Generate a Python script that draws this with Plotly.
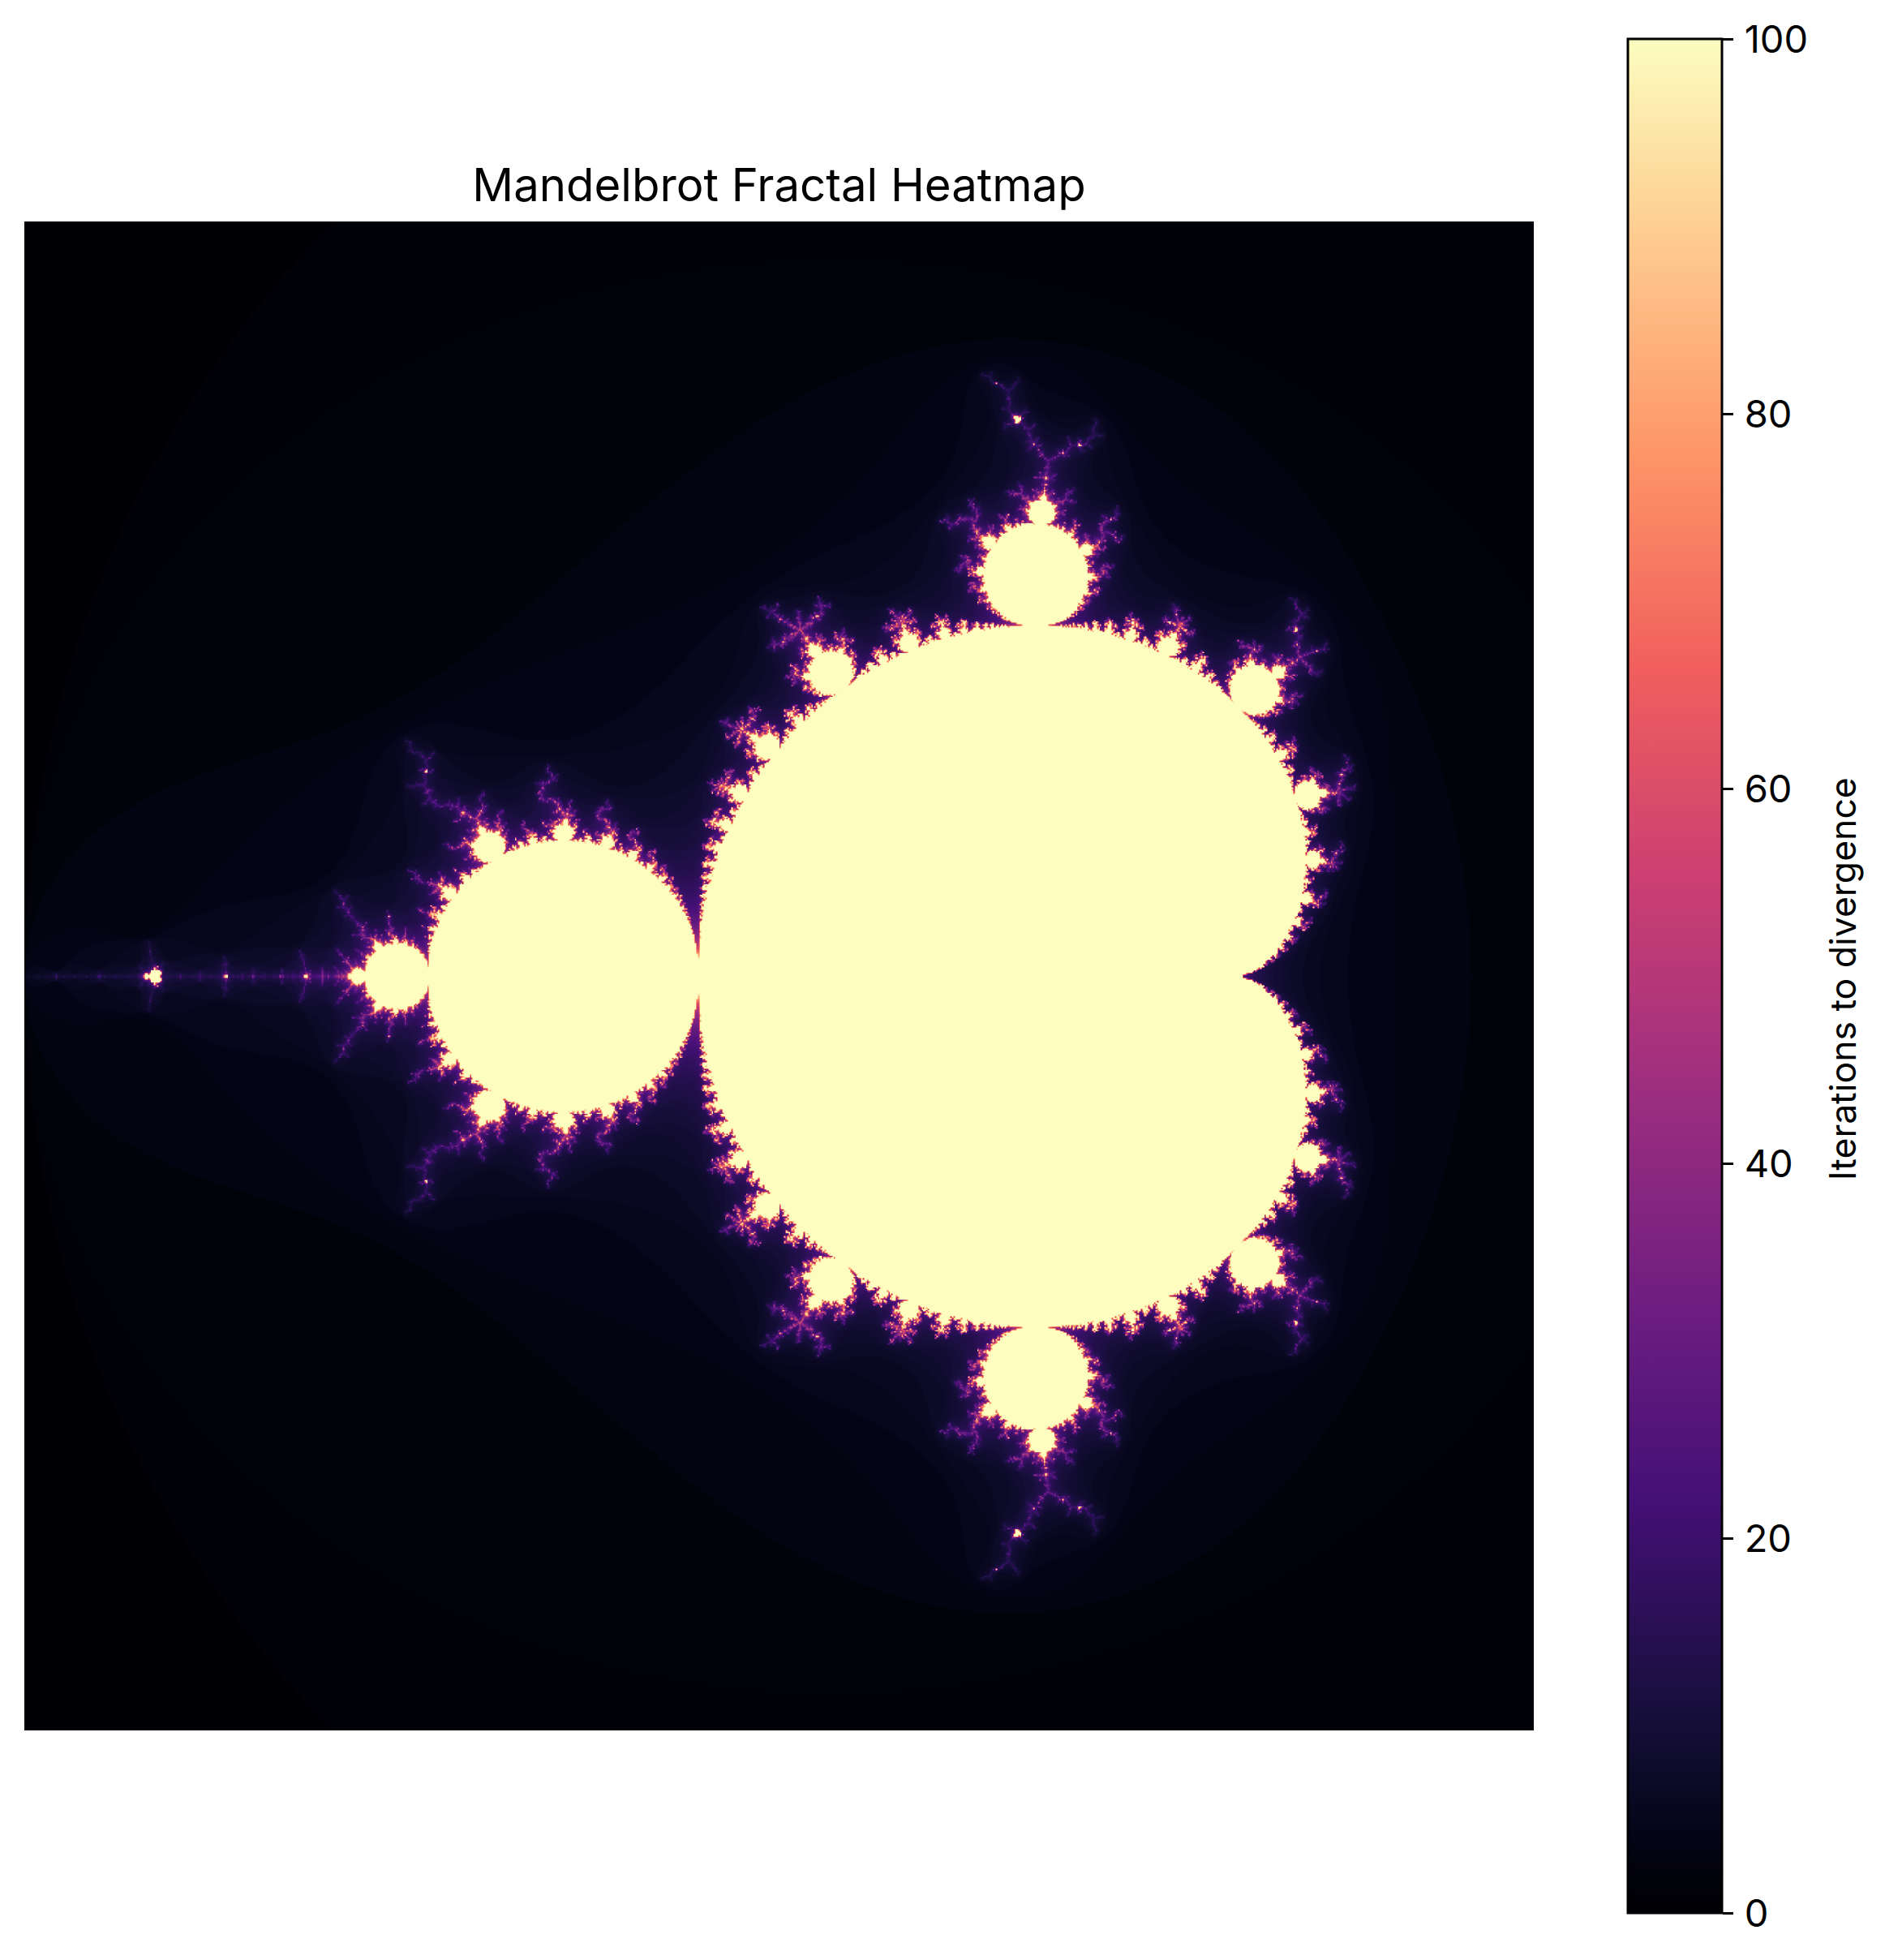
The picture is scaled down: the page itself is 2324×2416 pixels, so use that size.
import numpy as np
import plotly.graph_objects as go

# Chart parameters
title_text = "Mandelbrot Fractal Heatmap"
colorbar_label = "Iterations to divergence"
x_range = [-2.0, 0.8]
y_range = [-1.4, 1.4]
grid_size = 1000
max_iter = 100
tick_values = [0, 20, 40, 60, 80, 100]
magma_positions = [0.0, 0.0196, 0.0392, 0.0784, 0.1111, 0.2222, 0.3333, 0.4444,
                   0.5556, 0.6667, 0.7778, 0.8889, 1.0]
magma_stops = ["#000004", "#02020b", "#050416", "#0e0b2b", "#180f3e", "#451077",
               "#721f81", "#9f2f7f", "#cd4071", "#f1605d", "#fd9567", "#fec98d",
               "#fcfdbf"]
FONT = "Inter"

x_values = np.linspace(x_range[0], x_range[1], grid_size)
y_values = np.linspace(y_range[0], y_range[1], grid_size)


def escape_counts(xs, ys, limit):
    c = xs[None, :] + 1j * ys[:, None]
    z = np.zeros_like(c)
    counts = np.full(c.shape, limit, dtype=np.uint8)
    active = np.ones(c.shape, dtype=bool)
    for n in range(limit):
        z[active] = z[active] ** 2 + c[active]
        escaped = active & (np.abs(z) > 2)
        counts[escaped] = n
        active &= ~escaped
    return counts


iterations = escape_counts(x_values, y_values, max_iter)

colorscale = [[p, s] for p, s in zip(magma_positions, magma_stops)]

fig = go.Figure(go.Heatmap(
    x=x_values, y=y_values, z=iterations,
    zmin=0, zmax=max_iter, zsmooth="best",
    colorscale=colorscale, hoverinfo="skip",
    colorbar=dict(
        lenmode="pixels", len=2310, thicknessmode="pixels", thickness=116,
        x=1.0622, xanchor="left", xpad=0,
        y=-0.1211, yanchor="bottom", ypad=0,
        outlinecolor="black", outlinewidth=3,
        ticks="outside", ticklen=13, tickwidth=3, tickcolor="black",
        tickvals=tick_values, ticktext=["\u200a" + str(v) for v in tick_values],
        tickfont=dict(family=FONT, size=47, color="black"),
    ),
))
fig.add_annotation(
    text=colorbar_label, textangle=-90, showarrow=False,
    xref="paper", yref="paper", x=1.2045, y=0.498,
    xanchor="center", yanchor="middle",
    font=dict(family=FONT, size=44.5, color="black"),
)
fig.update_layout(
    width=2308, height=2400,
    margin=dict(l=22, r=425, t=265, b=275, autoexpand=False),
    paper_bgcolor="white", plot_bgcolor="white",
    font=dict(family=FONT, color="black"),
    title=dict(text=title_text, x=0.5, xref="paper", xanchor="center",
               y=1, yref="paper", yanchor="bottom",
               pad=dict(b=25), font=dict(family=FONT, size=56.3, color="black")),
    xaxis=dict(visible=False, range=x_range, constrain="domain"),
    yaxis=dict(visible=False, range=y_range),
)
fig.write_html("out.html")
